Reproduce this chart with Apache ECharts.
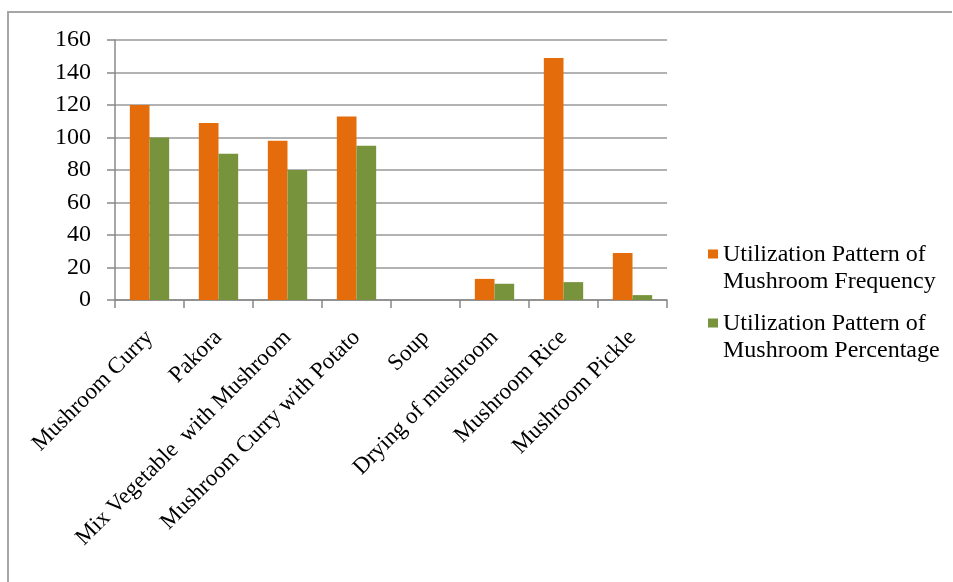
<!DOCTYPE html>
<html><head><meta charset="utf-8">
<script src="https://cdn.jsdelivr.net/npm/echarts@6/dist/echarts.min.js"></script>
<style>html,body{margin:0;padding:0;background:#fff}#c{width:953px;height:582px}</style>
</head><body><div id="c"></div>
<script>
const categories = ["Mushroom Curry","Pakora","Mix Vegetable  with Mushroom","Mushroom Curry with Potato","Soup","Drying of mushroom","Mushroom Rice","Mushroom Pickle"];
const frequency = [120,109,98,113,0,13,149,29];
const percentage = [100,90,80,95,0,10,11,3];
const seriesNames = ["Utilization Pattern of\nMushroom Frequency","Utilization Pattern of\nMushroom Percentage"];
const yTicks = {min:0,max:160,interval:20};

const font = "'Liberation Serif','Times New Roman',serif";
const chart = echarts.init(document.getElementById('c'));
chart.setOption({
  animation:false,
  backgroundColor:'#fff',
  textStyle:{fontFamily:font},
  graphic:[
    {type:'polyline',shape:{points:[[8,582],[8,12],[952,12]]},style:{stroke:'#a6a6a6',lineWidth:2,fill:null}}
  ],
  grid:{left:115,top:40,right:286,bottom:282,containLabel:false},
  legend:{
    orient:'vertical',left:703,top:236,itemWidth:10,itemHeight:37,itemGap:15,
    icon:'path://M0,0L10,0L10,9L0,9Z M0,0L0,37',
    textStyle:{fontFamily:font,fontSize:24,color:'#000',lineHeight:27},
    data:seriesNames
  },
  xAxis:{
    type:'category',data:categories,
    axisLine:{lineStyle:{color:'#888',width:1.5}},
    axisTick:{show:true,length:8,lineStyle:{color:'#888',width:1.5}},
    axisLabel:{rotate:45,interval:0,fontFamily:font,fontSize:23,color:'#000',margin:34}
  },
  yAxis:{
    type:'value',min:yTicks.min,max:yTicks.max,interval:yTicks.interval,
    axisLine:{show:true,lineStyle:{color:'#888',width:1.5}},
    axisTick:{show:true,length:8,lineStyle:{color:'#888',width:1.5}},
    splitLine:{lineStyle:{color:'#999',width:1.5}},
    axisLabel:{fontFamily:font,fontSize:24,color:'#000',margin:24}
  },
  series:[
    {name:seriesNames[0],type:'bar',data:frequency,barGap:'0%',barCategoryGap:'43%',itemStyle:{color:'#E46C0A'}},
    {name:seriesNames[1],type:'bar',data:percentage,itemStyle:{color:'#77933C'}}
  ]
});
</script></body></html>
